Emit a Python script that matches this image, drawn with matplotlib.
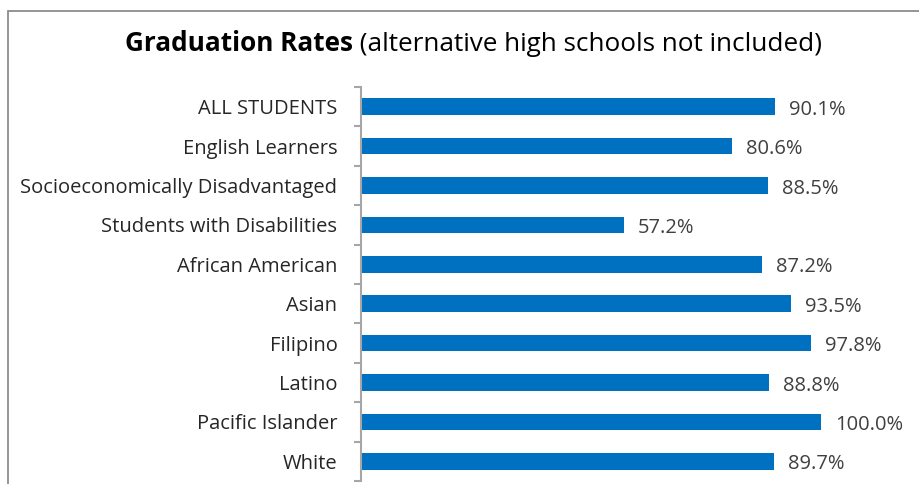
import matplotlib
matplotlib.use("Agg")
import matplotlib.pyplot as plt
from matplotlib.patches import Rectangle
from matplotlib.ticker import FixedLocator, NullLocator

categories = ["ALL STUDENTS", "English Learners", "Socioeconomically Disadvantaged",
              "Students with Disabilities", "African American", "Asian", "Filipino",
              "Latino", "Pacific Islander", "White"]
values = [90.1, 80.6, 88.5, 57.2, 87.2, 93.5, 97.8, 88.8, 100.0, 89.7]
value_labels = ["90.1%", "80.6%", "88.5%", "57.2%", "87.2%", "93.5%", "97.8%",
                "88.8%", "100.0%", "89.7%"]

W, H = 919, 484
fig = plt.figure(figsize=(W / 100, H / 100), dpi=100)
FONT = ["Open Sans", "DejaVu Sans"]
TXT = "#262626"
FS = 14.5

# outer border (chart area frame)
fig.patches.append(Rectangle((8 / W, -0.1), 1.2, 1.1 - 11 / H, transform=fig.transFigure,
                             fill=False, edgecolor="#8c8c8c", linewidth=1.3))

ax_left, ax_right = 361, 867
ax_top, ax_bot = 87, 481
ax = fig.add_axes([ax_left / W, (H - ax_bot) / H, (ax_right - ax_left) / W, (ax_bot - ax_top) / H])
y = list(range(len(categories)))
ax.barh(y, values, height=0.42, color="#0070C0")
ax.set_xlim(0, 110)
ax.set_ylim(len(categories) - 0.5, -0.5)
for s in ["top", "right", "bottom"]:
    ax.spines[s].set_visible(False)
ax.spines["left"].set_color("#a6a6a6")
ax.spines["left"].set_linewidth(1.5)
ax.xaxis.set_major_locator(NullLocator())
ax.yaxis.set_major_locator(FixedLocator(y))
ax.set_yticklabels(categories, fontsize=FS, color=TXT, family=FONT)
ax.tick_params(axis="y", which="major", length=0, pad=17)
ax.yaxis.set_minor_locator(FixedLocator([i - 0.5 for i in range(len(categories) + 1)]))
ax.tick_params(axis="y", which="minor", length=5, width=1.5, color="#a6a6a6")
ax.patch.set_alpha(0)

for yi, v, lab in zip(y, values, value_labels):
    ax.annotate(lab, (v, yi), xytext=(14, -3), textcoords="offset pixels",
                va="center", ha="left", fontsize=FS, color="#404040", family=FONT)

# title: bold part + regular part
fig.canvas.draw()
r = fig.canvas.get_renderer()
TFS = 18.8
t1 = fig.text(0, 0, "Graduation Rates", fontsize=TFS, fontweight="bold", family=FONT, color="black")
t2 = fig.text(0, 0, " (alternative high schools not included)", fontsize=TFS, family=FONT, color="black")
w1 = t1.get_window_extent(r).width
w2 = t2.get_window_extent(r).width
cx = 473.5
x0 = cx - (w1 + w2) / 2
ty = H - 51
t1.set_position((x0 / W, ty / H))
t2.set_position(((x0 + w1) / W, ty / H))

fig.savefig("out.png", dpi=100)
